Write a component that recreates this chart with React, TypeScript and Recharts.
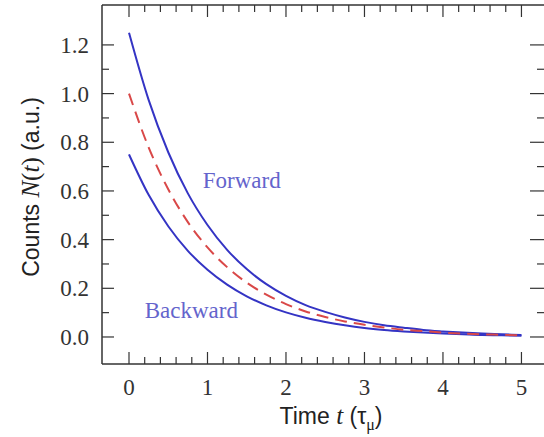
import { LineChart, Line, XAxis, YAxis, ReferenceDot } from "recharts";

// time in units of tau_mu
const times = [0, 0.25, 0.5, 0.75, 1, 1.25, 1.5, 1.75, 2, 2.25, 2.5, 2.75, 3, 3.25, 3.5, 3.75, 4, 4.25, 4.5, 4.75, 5];
const forward = [1.25, 0.974, 0.759, 0.59, 0.46, 0.358, 0.279, 0.217, 0.169, 0.131, 0.103, 0.08, 0.062, 0.048, 0.038, 0.029, 0.023, 0.018, 0.014, 0.011, 0.008];
const average = [1.0, 0.779, 0.607, 0.472, 0.368, 0.287, 0.223, 0.174, 0.135, 0.105, 0.082, 0.064, 0.05, 0.039, 0.03, 0.024, 0.018, 0.014, 0.011, 0.009, 0.007];
const backward = [0.75, 0.584, 0.455, 0.354, 0.276, 0.215, 0.167, 0.13, 0.101, 0.079, 0.062, 0.048, 0.037, 0.029, 0.023, 0.018, 0.014, 0.011, 0.008, 0.007, 0.005];

const xTicks = [0, 0.2, 0.4, 0.6, 0.8, 1, 1.2, 1.4, 1.6, 1.8, 2, 2.2, 2.4, 2.6, 2.8, 3, 3.2, 3.4, 3.6, 3.8, 4, 4.2, 4.4, 4.6, 4.8, 5];
const xMajor = [0, 1, 2, 3, 4, 5];
const yTicks = [0, 0.1, 0.2, 0.3, 0.4, 0.5, 0.6, 0.7, 0.8, 0.9, 1, 1.1, 1.2];
const yMajor = [0, 0.2, 0.4, 0.6, 0.8, 1, 1.2];

const data = times.map((t, i) => ({ t, fwd: forward[i], avg: average[i], bwd: backward[i] }));

const AXIS = "#333";
const BLUE = "#3434c4";
const RED = "#d94848";
const LABEL_BLUE = "#6464cc";
const serif = "'Liberation Serif', 'Times New Roman', serif";
const sans = "'Liberation Sans', Arial, sans-serif";

const isMajor = (list: number[], v: number) => list.some((m) => Math.abs(m - v) < 1e-6);

const BottomTick = ({ x, y, payload }: any) => {
  const major = isMajor(xMajor, payload.value);
  return (
    <g>
      <line x1={x} x2={x} y1={y} y2={y - (major ? 12 : 7)} stroke={AXIS} strokeWidth={1.2} />
      {major && (
        <text x={x} y={y + 31} textAnchor="middle" fontFamily={serif} fontSize={23} fill="#333">
          {payload.value}
        </text>
      )}
    </g>
  );
};

const TopTick = ({ x, y, payload }: any) => {
  const major = isMajor(xMajor, payload.value);
  return <line x1={x} x2={x} y1={y} y2={y + (major ? 12 : 7)} stroke={AXIS} strokeWidth={1.2} />;
};

const LeftTick = ({ x, y, payload }: any) => {
  const major = isMajor(yMajor, payload.value);
  return (
    <g>
      <line x1={x} x2={x + (major ? 12 : 7)} y1={y} y2={y} stroke={AXIS} strokeWidth={1.2} />
      {major && (
        <text x={x - 13} y={y + 8} textAnchor="end" fontFamily={serif} fontSize={23} fill="#333">
          {payload.value.toFixed(1)}
        </text>
      )}
    </g>
  );
};

const RightTick = ({ x, y, payload }: any) => {
  const major = isMajor(yMajor, payload.value);
  return <line x1={x} x2={x - (major ? 15 : 8)} y1={y} y2={y} stroke={AXIS} strokeWidth={1.2} />;
};

const TextTag = (text: string) => (props: any) => {
  const vb = props.viewBox ?? {};
  return (
    <text x={vb.x} y={vb.y + 8} textAnchor="start" fontFamily={serif} fontSize={23} fill={LABEL_BLUE}>
      {text}
    </text>
  );
};

export default function App() {
  return (
    <div style={{ position: "relative", width: 544, height: 437, overflow: "hidden", background: "#fff" }}>
      <style>{"body{margin:0}"}</style>
      <LineChart width={546} height={437} data={data} margin={{ top: 4, right: 0, bottom: 23, left: 42 }}>
        <XAxis
          xAxisId="b"
          dataKey="t"
          type="number"
          domain={[-0.344, 5.3]}
          allowDataOverflow
          ticks={xTicks}
          interval={0}
          height={50}
          tickSize={0}
          tickMargin={0}
          tickLine={false}
          tick={<BottomTick />}
          axisLine={{ stroke: AXIS, strokeWidth: 1.5 }}
        />
        <XAxis
          xAxisId="top"
          dataKey="t"
          type="number"
          orientation="top"
          domain={[-0.344, 5.3]}
          allowDataOverflow
          ticks={xTicks}
          interval={0}
          height={1}
          tickSize={0}
          tickMargin={0}
          tickLine={false}
          tick={<TopTick />}
          axisLine={{ stroke: AXIS, strokeWidth: 1.5 }}
        />
        <YAxis
          yAxisId="l"
          type="number"
          domain={[-0.111, 1.364]}
          allowDataOverflow
          ticks={yTicks}
          interval={0}
          width={60}
          tickSize={0}
          tickMargin={0}
          tickLine={false}
          tick={<LeftTick />}
          axisLine={{ stroke: AXIS, strokeWidth: 1.5 }}
        />
        <YAxis
          yAxisId="r"
          orientation="right"
          type="number"
          domain={[-0.111, 1.364]}
          allowDataOverflow
          ticks={yTicks}
          interval={0}
          width={1}
          tickSize={0}
          tickMargin={0}
          tickLine={false}
          tick={<RightTick />}
          axisLine={false}
        />
        <Line xAxisId="b" yAxisId="l" type="monotone" dataKey="fwd" stroke={BLUE} strokeWidth={2} dot={false} isAnimationActive={false} />
        <Line xAxisId="b" yAxisId="l" type="monotone" dataKey="bwd" stroke={BLUE} strokeWidth={2} dot={false} isAnimationActive={false} />
        <Line xAxisId="b" yAxisId="l" type="monotone" dataKey="avg" stroke={RED} strokeWidth={2} strokeDasharray="12 7" dot={false} isAnimationActive={false} />
        <ReferenceDot xAxisId="b" yAxisId="l" x={0.94} y={0.645} r={0} fill="none" stroke="none" label={TextTag("Forward")} />
        <ReferenceDot xAxisId="b" yAxisId="l" x={0.2} y={0.11} r={0} fill="none" stroke="none" label={TextTag("Backward")} />
      </LineChart>
      <svg width={544} height={437} style={{ position: "absolute", left: 0, top: 0, pointerEvents: "none" }}>
        <text x={331} y={424} textAnchor="middle" fontFamily={sans} fontSize={23} fill="#222">
          Time <tspan fontFamily={serif} fontStyle="italic" fontSize={25}>t</tspan> (τ
          <tspan fontFamily={serif} fontSize={16} dy={6}>μ</tspan>
          <tspan dy={-6}>)</tspan>
        </text>
        <text
          x={0}
          y={0}
          transform="translate(39,187) rotate(-90)"
          textAnchor="middle"
          fontFamily={sans}
          fontSize={23}
          fill="#222"
        >
          Counts <tspan fontFamily={serif} fontStyle="italic" fontSize={25}>N</tspan>
          <tspan fontFamily={serif} fontSize={25}>(</tspan>
          <tspan fontFamily={serif} fontStyle="italic" fontSize={25}>t</tspan>
          <tspan fontFamily={serif} fontSize={25}>)</tspan> (a.u.)
        </text>
      </svg>
    </div>
  );
}
